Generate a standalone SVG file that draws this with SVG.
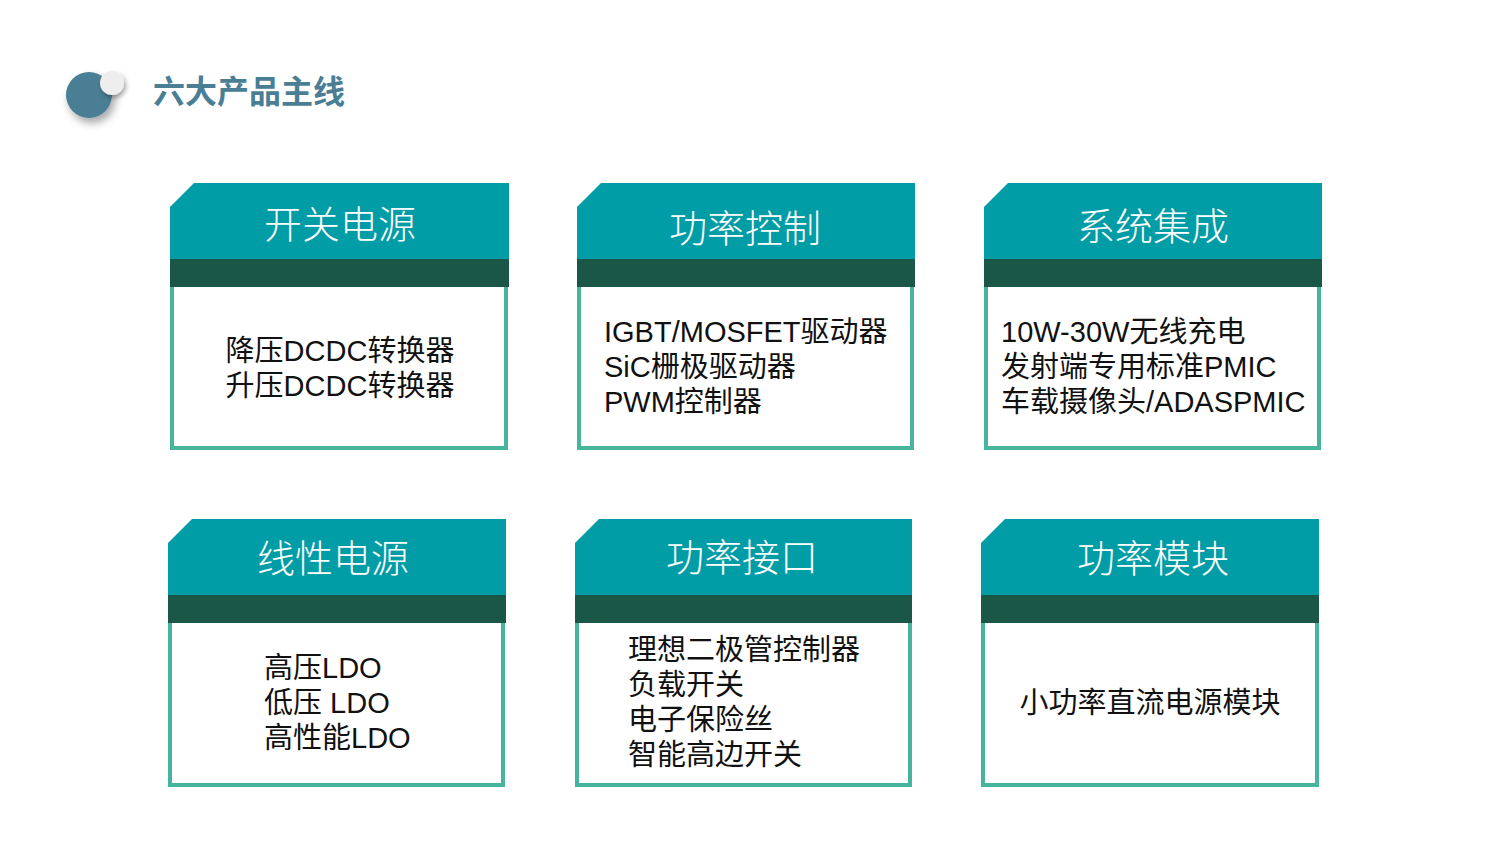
<svg xmlns="http://www.w3.org/2000/svg" width="1500" height="850" viewBox="0 0 1500 850">
<defs>
<style>
.hd{fill:#009da7}
.band{fill:#1b5747}
.body{fill:#ffffff;stroke:#45b59b;stroke-width:4}
.ttl{font-family:"Noto Sans CJK SC","Liberation Sans",sans-serif;font-size:38px;font-weight:300;fill:#ffffff;text-anchor:middle}
.txt{font-family:"Liberation Sans","Noto Sans CJK SC",sans-serif;font-size:29px;fill:#111111}
.c{text-anchor:middle}
.main{font-family:"Noto Sans CJK SC","Liberation Sans",sans-serif;font-size:32px;font-weight:700;fill:#4a7e94}
</style>
<filter id="sh" x="-50%" y="-50%" width="200%" height="200%">
<feDropShadow dx="3" dy="5" stdDeviation="4" flood-color="#000000" flood-opacity="0.35"/>
</filter>
<filter id="sh2" x="-50%" y="-50%" width="200%" height="200%">
<feDropShadow dx="2" dy="3" stdDeviation="2.5" flood-color="#000000" flood-opacity="0.35"/>
</filter>
</defs>
<rect width="1500" height="850" fill="#ffffff"/>
<g id="title">
<circle cx="89" cy="95" r="23" fill="#4a7e94" filter="url(#sh)"/>
<circle cx="112" cy="83" r="12" fill="#eeeeee" filter="url(#sh2)"/>
<text class="main" x="153" y="103">六大产品主线</text>
</g>
<g id="connectors"></g>
<g id="card1" transform="translate(170,183)">
<rect class="body" x="2" y="96" width="334" height="169"/>
<path class="hd" d="M0,24 L24,0 L339,0 L339,76 L0,76 Z"/>
<rect class="band" x="0" y="76" width="339" height="28"/>
<text class="ttl" x="170" y="55">开关电源</text>
<text class="txt c" x="170" y="178">降压DCDC转换器</text>
<text class="txt c" x="170" y="213">升压DCDC转换器</text>
</g>
<g id="card2" transform="translate(577,183)">
<rect class="body" x="2" y="96" width="333" height="169"/>
<path class="hd" d="M0,24 L24,0 L338,0 L338,76 L0,76 Z"/>
<rect class="band" x="0" y="76" width="338" height="28"/>
<text class="ttl" x="168" y="59">功率控制</text>
<text class="txt" x="27" y="159">IGBT/MOSFET驱动器</text>
<text class="txt" x="27" y="194">SiC栅极驱动器</text>
<text class="txt" x="27" y="229">PWM控制器</text>
</g>
<g id="card3" transform="translate(984,183)">
<rect class="body" x="2" y="96" width="333" height="169"/>
<path class="hd" d="M0,24 L24,0 L338,0 L338,76 L0,76 Z"/>
<rect class="band" x="0" y="76" width="338" height="28"/>
<text class="ttl" x="169" y="57">系统集成</text>
<text class="txt" x="17" y="159">10W-30W无线充电</text>
<text class="txt" x="17" y="194">发射端专用标准PMIC</text>
<text class="txt" x="17" y="229">车载摄像头/ADASPMIC</text>
</g>
<g id="card4" transform="translate(168,519)">
<rect class="body" x="2" y="96" width="333" height="170"/>
<path class="hd" d="M0,24 L24,0 L338,0 L338,76 L0,76 Z"/>
<rect class="band" x="0" y="76" width="338" height="28"/>
<text class="ttl" x="165" y="53">线性电源</text>
<text class="txt" x="96" y="159">高压LDO</text>
<text class="txt" x="96" y="194">低压 LDO</text>
<text class="txt" x="96" y="229">高性能LDO</text>
</g>
<g id="card5" transform="translate(575,519)">
<rect class="body" x="2" y="96" width="333" height="170"/>
<path class="hd" d="M0,24 L24,0 L337,0 L337,76 L0,76 Z"/>
<rect class="band" x="0" y="76" width="337" height="28"/>
<text class="ttl" x="167" y="52">功率接口</text>
<text class="txt" x="53" y="141">理想二极管控制器</text>
<text class="txt" x="53" y="176">负载开关</text>
<text class="txt" x="53" y="211">电子保险丝</text>
<text class="txt" x="53" y="246">智能高边开关</text>
</g>
<g id="card6" transform="translate(981,519)">
<rect class="body" x="2" y="96" width="334" height="170"/>
<path class="hd" d="M0,24 L24,0 L338,0 L338,76 L0,76 Z"/>
<rect class="band" x="0" y="76" width="338" height="28"/>
<text class="ttl" x="172" y="53">功率模块</text>
<text class="txt c" x="169" y="194">小功率直流电源模块</text>
</g>
</svg>
